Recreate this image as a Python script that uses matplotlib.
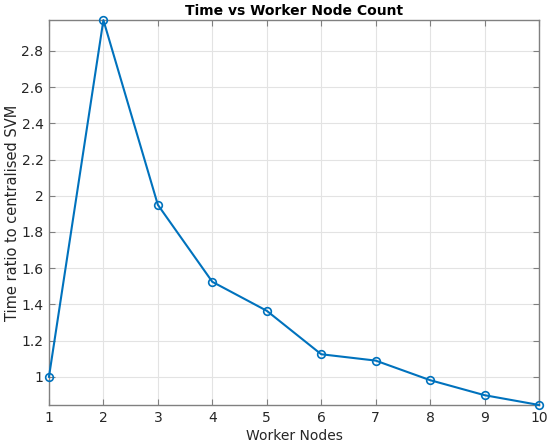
import matplotlib
matplotlib.use("Agg")
import matplotlib.pyplot as plt

workers = [1, 2, 3, 4, 5, 6, 7, 8, 9, 10]
time_ratio = [1.0, 2.97, 1.95, 1.525, 1.365, 1.125, 1.09, 0.982, 0.899, 0.845]
yticks = [1, 1.2, 1.4, 1.6, 1.8, 2, 2.2, 2.4, 2.6, 2.8]
ytick_labels = ["1", "1.2", "1.4", "1.6", "1.8", "2", "2.2", "2.4", "2.6", "2.8"]

fig = plt.figure(figsize=(5.5, 4.46), dpi=100)
ax = fig.add_axes([0.089, 0.092, 0.891, 0.863])

ax.plot(workers, time_ratio, color="#0072BD", linewidth=1.5, marker="o",
        markersize=5.5, markerfacecolor="none", markeredgewidth=1.2,
        zorder=3, clip_on=False)

ax.set_xlim(1, 10)
ax.set_ylim(min(time_ratio), max(time_ratio))
ax.set_xticks(workers)
ax.set_yticks(yticks)
ax.set_yticklabels(ytick_labels)
ax.grid(True, color="#e3e3e3", linewidth=0.8)
ax.set_axisbelow(True)
ax.tick_params(direction="in", top=True, right=True, length=4,
               labelsize=10, color="#808080", labelcolor="#262626", pad=4)
for s in ax.spines.values():
    s.set_color("#808080")
    s.set_linewidth(1.0)

ax.set_xlabel("Worker Nodes", fontsize=10, color="#262626", labelpad=3)
ax.set_ylabel("Time ratio to centralised SVM", fontsize=10.5, color="#262626", labelpad=1)
ax.set_title("Time vs Worker Node Count", fontsize=10, fontweight="bold", pad=4)

fig.savefig("out.png", dpi=100)
